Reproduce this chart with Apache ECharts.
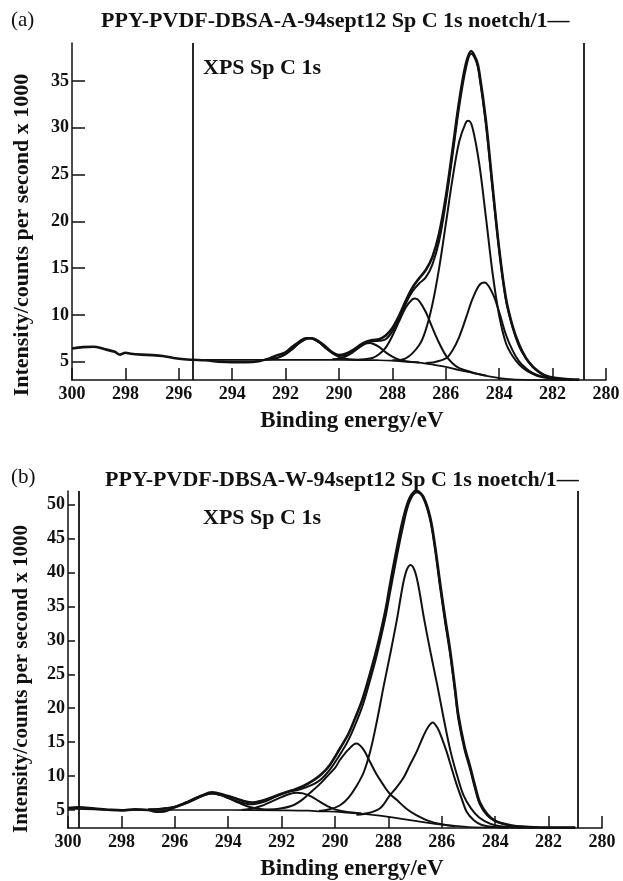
<!DOCTYPE html>
<html>
<head>
<meta charset="utf-8">
<script src="https://cdn.jsdelivr.net/npm/echarts@6/dist/echarts.min.js"></script>
<style>
html,body{margin:0;padding:0;background:#fff;}
#chart{width:623px;height:881px;}
</style>
</head>
<body>
<div id="chart"></div>
<script>
// ---------- Panel (a) data: [binding energy eV, intensity kcps] ----------
const rawA = [[300,6.4],[299.6,6.55],[299.2,6.6],[298.8,6.35],[298.4,6.05],[298.2,5.75],[298,5.95],[297.8,5.85],[297.4,5.75],[297,5.7],[296.6,5.6],[296.2,5.4],[295.8,5.25],[295.5,5.2],[295,5.15],[294.5,5.0],[294,4.95],[293.5,4.95],[293,5.05],[292.6,5.35],[292.3,5.7],[292,6.0],[291.75,6.6],[291.5,7.1],[291.25,7.5],[291,7.5],[290.75,7.15],[290.5,6.6],[290.25,6.0],[290,5.7],[289.75,5.85],[289.5,6.2],[289.25,6.7],[289,7.1],[288.75,7.3],[288.5,7.4],[288.25,7.8],[288,8.6],[287.75,9.9],[287.5,11.5],[287.25,12.9],[287,13.9],[286.75,14.8],[286.5,16.2],[286.25,18.7],[286,22.6],[285.75,27.6],[285.5,32.8],[285.25,36.8],[285.05,38.2],[284.85,37.2],[284.75,36.0],[284.5,30.8],[284.25,23.8],[284,17.0],[283.75,11.8],[283.5,8.8],[283.25,6.8],[283,5.4],[282.75,4.5],[282.5,3.9],[282.25,3.5],[282,3.3],[281.5,3.15],[281,3.1]];
const fitA = [[292.75,5.25],[292.5,5.29],[292.25,5.46],[292,5.8],[291.75,6.34],[291.5,6.97],[291.25,7.42],[291.1,7.5],[291,7.46],[290.75,7.08],[290.5,6.47],[290.25,5.94],[290,5.64],[289.75,5.67],[289.5,6.02],[289.25,6.55],[289,7.03],[288.75,7.18],[288.5,7.22],[288.25,7.4],[288,8.24],[287.75,9.61],[287.5,11.2],[287.25,12.5],[287,13.35],[286.75,14.0],[286.5,15.4],[286.25,17.9],[286,22.0],[285.75,27.0],[285.5,32.2],[285.25,36.3],[285.05,37.9],[284.85,37.0],[284.75,35.65],[284.5,30.4],[284.25,23.5],[284,16.9],[283.75,11.6],[283.5,8.7],[283.25,6.6],[283,5.35],[282.75,4.45],[282.5,3.85],[282.25,3.45],[282,3.25],[281.5,3.1]];
const peakA1 = [[288,5.15],[287.5,5.36],[287,6.75],[286.75,8.4],[286.5,11.15],[286.25,15.0],[286,19.7],[285.75,24.5],[285.5,28.5],[285.25,30.55],[285.15,30.75],[285,30.0],[284.75,26.2],[284.5,20.5],[284.25,14.5],[284,9.9],[283.75,7.0],[283.5,5.6],[283.25,4.7],[283,4.1],[282.75,3.7],[282.5,3.4],[282,3.2],[281.5,3.1]];
const peakA2 = [[286.75,4.85],[286.5,4.9],[286,5.34],[285.75,6.2],[285.5,7.63],[285.25,9.62],[285,11.7],[284.75,13.15],[284.55,13.45],[284.25,12.3],[284,10.3],[283.75,7.9],[283.5,6.2],[283.25,5.0],[283,4.3],[282.75,3.8],[282.5,3.5],[282,3.2],[281.5,3.1]];
const peakA3 = [[289.25,5.2],[288.75,5.4],[288.5,5.79],[288.25,6.5],[288,7.76],[287.75,9.3],[287.5,10.8],[287.25,11.66],[287.15,11.75],[287,11.5],[286.75,10.3],[286.5,8.6],[286.25,7.0],[286,5.67],[285.75,4.83],[285.5,4.3],[285,3.85],[284.5,3.5]];
const peakA4 = [[290.25,5.25],[290,5.33],[289.75,5.56],[289.5,5.96],[289.25,6.5],[289,6.92],[288.85,7.0],[288.75,6.94],[288.5,6.58],[288.25,5.99],[288,5.53],[287.75,5.21],[287.5,5.05],[287,4.9]];
const peakA5 = [[292.75,5.22],[292.5,5.29],[292.25,5.46],[292,5.8],[291.75,6.34],[291.5,6.97],[291.25,7.42],[291.1,7.5],[291,7.46],[290.75,7.08],[290.5,6.47],[290.25,5.9],[290,5.51],[289.75,5.31],[289.5,5.23],[289,5.2]];
const baseA = [[295.5,5.2],[293,5.2],[290,5.2],[288.5,5.15],[288,5.1],[287.5,5.0],[287,4.9],[286.5,4.7],[286,4.45],[285.5,4.1],[285,3.8],[284.5,3.5],[284,3.25],[283.5,3.1],[283,3.05],[282,3.02],[281,3.0]];
const markersA = [295.47, 280.85];

// ---------- Panel (b) data ----------
const rawB = [[300,5.3],[299.6,5.4],[299,5.2],[298.5,5.05],[298,4.95],[297.5,5.1],[297,5.0],[296.7,4.75],[296.4,4.8],[296,5.4],[295.5,6.2],[295,7.1],[294.6,7.6],[294.2,7.3],[293.8,6.8],[293.4,6.3],[293.1,6.1],[292.8,6.3],[292.4,6.8],[292,7.4],[291.6,7.9],[291.2,8.5],[290.8,9.4],[290.5,10.3],[290.2,11.6],[289.81,14.1],[289.5,16.2],[289.25,18.5],[289,21.0],[288.81,23.4],[288.5,27.8],[288.31,30.8],[288.1,34.6],[287.94,38.2],[287.7,43.2],[287.44,48.0],[287.2,51.0],[286.95,52.0],[286.7,51.2],[286.44,48.2],[286.25,43.8],[286.07,38.6],[285.88,33.4],[285.69,28.6],[285.5,22.8],[285.38,19.0],[285.15,14.4],[284.94,11.4],[284.75,8.5],[284.57,6.1],[284.3,4.4],[284,3.4],[283.6,2.9],[283.2,2.6],[282.5,2.45],[281.5,2.4],[281,2.4]];
const fitB = [[297,5.1],[296.5,5.2],[296,5.45],[295.5,6.1],[295,7.0],[294.6,7.45],[294.2,7.1],[293.8,6.5],[293.4,6.0],[293.2,5.85],[293,5.9],[292.6,6.3],[292.2,7.0],[291.8,7.65],[291.3,8.05],[290.8,8.8],[290.5,9.6],[290.2,10.9],[289.81,13.2],[289.5,15.3],[289.25,17.5],[289,20.0],[288.81,22.4],[288.5,26.8],[288.31,29.9],[288.1,33.6],[287.94,37.0],[287.7,42.0],[287.44,47.0],[287.2,50.5],[286.92,51.8],[286.7,51.0],[286.44,47.8],[286.25,43.3],[286.07,38.0],[285.88,32.8],[285.69,28.0],[285.5,22.2],[285.38,18.4],[285.15,13.9],[284.94,11.0],[284.75,8.1],[284.57,5.8],[284.3,4.2],[284,3.35],[283.6,2.85],[283.2,2.6],[282.5,2.45]];
const peakB1 = [[290.6,4.85],[290.2,5.1],[289.81,5.7],[289.5,6.8],[289.17,8.7],[288.92,10.6],[288.67,13.8],[288.42,18.3],[288.17,23.4],[287.92,28.2],[287.67,33.3],[287.47,37.9],[287.32,40.3],[287.17,41.1],[287.02,40.3],[286.87,37.9],[286.67,33.3],[286.42,28.2],[286.17,23.4],[285.92,18.3],[285.67,13.6],[285.42,10.0],[285.19,7.2],[284.9,5.2],[284.6,3.9],[284.2,3.0],[283.8,2.6],[283.3,2.45],[282.5,2.4]];
const peakB2 = [[289.2,4.3],[288.7,4.6],[288.3,5.3],[287.94,7.2],[287.7,8.3],[287.44,9.7],[287.2,11.6],[286.94,13.6],[286.7,15.8],[286.5,17.3],[286.34,17.9],[286.15,17.0],[286,15.6],[285.82,13.6],[285.62,11.0],[285.44,8.7],[285.25,6.6],[285.07,4.75],[284.8,3.5],[284.5,2.8],[284,2.5],[283.5,2.4]];
const peakB3 = [[292.6,5.0],[292,5.25],[291.56,5.7],[291.2,6.6],[290.94,7.5],[290.6,8.7],[290.31,9.9],[290,11.2],[289.81,12.4],[289.5,13.9],[289.2,14.8],[288.95,14.0],[288.69,12.1],[288.45,10.3],[288.19,8.7],[287.95,7.4],[287.69,6.5],[287.3,5.1],[286.94,4.2],[286.5,3.4],[286,2.9],[285.5,2.6]];
const peakB4 = [[293.5,5.0],[293.2,5.15],[292.8,5.55],[292.4,6.2],[292,6.9],[291.7,7.35],[291.45,7.55],[291.2,7.45],[290.9,7.0],[290.6,6.3],[290.3,5.6],[290,5.1],[289.6,4.75],[289,4.5]];
const peakB5 = [[297,5.05],[296.5,5.2],[296,5.5],[295.6,6.1],[295.2,6.8],[294.9,7.25],[294.6,7.45],[294.3,7.25],[294,6.75],[293.6,6.05],[293.2,5.45],[292.8,5.15],[292.3,5.0]];
const baseB = [[300,5.2],[299,5.1],[298,5.0],[296,5.0],[294,5.0],[292,4.95],[291,4.9],[290.5,4.8],[290,4.75],[289.5,4.6],[289,4.45],[288.5,4.25],[288,4.0],[287.5,3.7],[287,3.4],[286.5,3.1],[286,2.85],[285.5,2.65],[285,2.5],[284,2.42],[283,2.4],[281,2.4]];
const markersB = [299.6, 280.9];

// ---------- axes / ticks ----------
const xRange = [280, 300];
const xStep = 2;
const yRangeA = [3.04, 39.05];
const yTicksA = [5, 10, 15, 20, 25, 30, 35];
const yRangeB = [2.35, 52];
const yTicksB = [5, 10, 15, 20, 25, 30, 35, 40, 45, 50];

const titleA = 'PPY-PVDF-DBSA-A-94sept12 Sp C 1s noetch/1—';
const titleB = 'PPY-PVDF-DBSA-W-94sept12 Sp C 1s noetch/1—';
const noteText = 'XPS Sp C 1s';
const xName = 'Binding energy/eV';
const yName = 'Intensity/counts per second x 1000';

const FONT = '"Liberation Serif","Times New Roman",serif';
const INK = '#111';

function xAxisDef(gi, tickLen) {
  return {
    type: 'value', gridIndex: gi, min: xRange[0], max: xRange[1], interval: xStep, inverse: true,
    axisLine: { lineStyle: { color: INK, width: 1.5 } },
    axisTick: { inside: true, length: tickLen, lineStyle: { color: INK, width: 1.5 } },
    axisLabel: { color: INK, fontFamily: FONT, fontSize: 18, fontWeight: 'bold', margin: 5 },
    splitLine: { show: false }
  };
}
function yAxisDef(gi, range, ticks, tickLen) {
  return {
    type: 'value', gridIndex: gi, min: range[0], max: range[1],
    axisLine: { show: true, lineStyle: { color: INK, width: 1.5 } },
    axisTick: { show: true, inside: true, length: tickLen, customValues: ticks, lineStyle: { color: INK, width: 1.5 } },
    axisLabel: { color: INK, fontFamily: FONT, fontSize: 18, fontWeight: 'bold', margin: 3, customValues: ticks },
    splitLine: { show: false }
  };
}
function line(data, gi, width) {
  return {
    type: 'line', data: data, xAxisIndex: gi, yAxisIndex: gi,
    showSymbol: false, smooth: 0.35, silent: true, animation: false,
    lineStyle: { color: INK, width: width }
  };
}
function markers(vals, gi) {
  return {
    type: 'line', data: [], xAxisIndex: gi, yAxisIndex: gi, silent: true, animation: false,
    markLine: {
      silent: true, symbol: ['none', 'none'], label: { show: false }, animation: false,
      lineStyle: { color: INK, width: 1.8, type: 'solid' },
      data: vals.map(v => ({ xAxis: v }))
    }
  };
}
function txt(text, x, y, size, rot) {
  return {
    type: 'text', x: x, y: y, rotation: rot || 0,
    style: { text: text, font: 'bold ' + size + 'px ' + FONT, fill: INK,
      textAlign: 'center', textVerticalAlign: 'middle', align: 'center', verticalAlign: 'middle' }
  };
}

const chart = echarts.init(document.getElementById('chart'), null, { renderer: 'canvas' });
const ts = (size, w) => ({ fontFamily: FONT, fontSize: size, fontWeight: w || 'bold', color: INK });
chart.setOption({
  backgroundColor: '#fff',
  animation: false,
  title: [
    { text: '(a)', left: 6, top: 5, textStyle: ts(21, 'normal') },
    { text: titleA, left: 96, top: 5, textStyle: ts(22) },
    { text: noteText, left: 198, top: 52, textStyle: ts(22) },
    { text: '(b)', left: 6, top: 462, textStyle: ts(21, 'normal') },
    { text: titleB, left: 100, top: 464, textStyle: ts(22) },
    { text: noteText, left: 198, top: 502, textStyle: ts(22) }
  ],
  graphic: [
    txt(yName, 22, 235, 22, Math.PI / 2),
    txt(yName, 22, 679, 21, Math.PI / 2),
    txt(xName, 352, 421, 23),
    txt(xName, 352, 869, 23)
  ],
  grid: [
    { left: 72, right: 17, top: 43, bottom: 501, containLabel: false },
    { left: 68, right: 21, top: 491, bottom: 53, containLabel: false }
  ],
  xAxis: [xAxisDef(0, 12), xAxisDef(1, 12)],
  yAxis: [yAxisDef(0, yRangeA, yTicksA, 13), yAxisDef(1, yRangeB, yTicksB, 7)],
  series: [
    line(baseA, 0, 1.7), line(peakA5, 0, 2), line(peakA4, 0, 2), line(peakA3, 0, 2),
    line(peakA2, 0, 2), line(peakA1, 0, 2), line(fitA, 0, 2), line(rawA, 0, 2.6),
    markers(markersA, 0),
    line(baseB, 1, 1.7), line(peakB5, 1, 2), line(peakB4, 1, 2), line(peakB3, 1, 2),
    line(peakB2, 1, 2), line(peakB1, 1, 2), line(fitB, 1, 2), line(rawB, 1, 2.6),
    markers(markersB, 1)
  ]
});
</script>
</body>
</html>
